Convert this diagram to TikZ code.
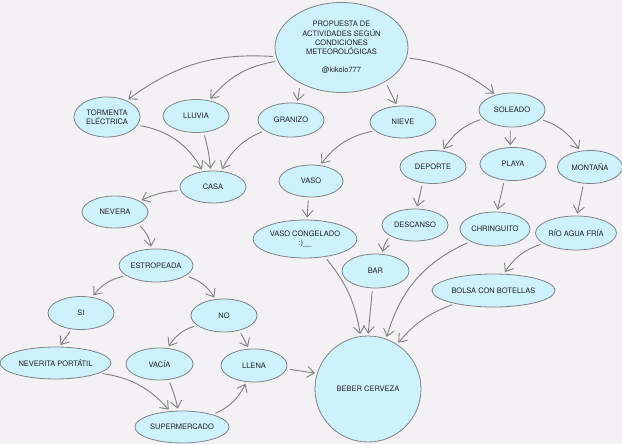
\documentclass[tikz,border=0pt]{standalone}
\usepackage{fontspec}
\setmainfont{TeX Gyre Heros}
\usepackage{tikz}
\usetikzlibrary{arrows.meta}
\usetikzlibrary{shapes.geometric}
\definecolor{bgpaper}{RGB}{243,241,243}
\definecolor{bubblefill}{RGB}{206,242,251}
\definecolor{bubbleline}{RGB}{128,130,136}
\definecolor{arrowgray}{RGB}{128,128,128}
\definecolor{labeltext}{RGB}{35,35,40}

\begin{document}
\begin{tikzpicture}[x=1pt,y=-1pt,
    bubble/.style={ellipse, draw=bubbleline, line width=0.8pt, fill=bubblefill, inner sep=0pt,
      text=labeltext, align=center, font=\fontsize{7.5}{9.3}\selectfont,
      minimum width=66pt, minimum height=33pt},
    arr/.style={draw=arrowgray, line width=0.9pt, -{Straight Barb[length=7pt,width=11pt]},
      shorten <=3pt, shorten >=2pt}]
    % Background
    \fill[bgpaper] (0,0) rectangle (622,444);%
    \useasboundingbox (0,0) rectangle (622,444);%

    % Nodes
    \node[bubble, minimum width=133pt, minimum height=90pt] (title) at (341.5,47.5)
      {PROPUESTA DE\\ACTIVIDADES SEGÚN\\CONDICIONES\\METEOROLÓGICAS\\[8.5pt]@kikolo777};%
    \node[bubble, minimum height=40pt] (tormenta) at (107,117) {TORMENTA\\ELÉCTRICA};%
    \node[bubble] (lluvia) at (196,116) {LLUVIA};%
    \node[bubble, minimum height=34pt] (granizo) at (291,120) {GRANIZO};%
    \node[bubble, minimum height=32pt] (nieve) at (403,122) {NIEVE};%
    \node[bubble, minimum height=34pt] (soleado) at (512,110) {SOLEADO};%
    \node[bubble, minimum height=32pt] (casa) at (213,187) {CASA};%
    \node[bubble, minimum width=64pt, minimum height=32pt] (vaso) at (311,181) {VASO};%
    \node[bubble] (deporte) at (433,167) {DEPORTE};%
    \node[bubble] (playa) at (513,164) {PLAYA};%
    \node[bubble, minimum width=65pt] (montana) at (590,167) {MONTAÑA};%
    \node[bubble, minimum height=32pt] (nevera) at (115,212) {NEVERA};%
    \node[bubble, minimum width=104pt, minimum height=38pt] (congelado) at (305,239) {VASO CONGELADO\\:)\_\_};%
    \node[bubble, minimum height=32pt] (descanso) at (415,225) {DESCANSO};%
    \node[bubble, minimum width=70pt, minimum height=34pt] (chiringuito) at (495,229) {CHRINGUITO};%
    \node[bubble, minimum width=81pt, minimum height=34pt] (rio) at (576,233) {RÍO AGUA FRÍA};%
    \node[bubble, minimum width=67pt, minimum height=34pt] (bar) at (375.5,271) {BAR};%
    \node[bubble, minimum width=74pt] (estropeada) at (156,265.5) {ESTROPEADA};%
    \node[bubble, minimum width=123pt] (bolsa) at (493.5,290.5) {BOLSA CON BOTELLAS};%
    \node[bubble] (si) at (81,313) {SI};%
    \node[bubble] (no) at (224,315.5) {NO};%
    \node[bubble, minimum width=111pt, minimum height=32pt] (neverita) at (55.5,363) {NEVERITA PORTÁTIL};%
    \node[bubble, minimum width=67pt, minimum height=32pt] (vacia) at (159.5,364) {VACÍA};%
    \node[bubble] (llena) at (254,365.5) {LLENA};%
    \node[bubble, minimum width=94pt, minimum height=32pt] (super) at (182,427) {SUPERMERCADO};%
    \node[bubble, circle, minimum size=106pt] (beber) at (368,389) {BEBER CERVEZA};%

    % Connectors from the title
    \draw[arr] (title.188) to[bend right=20] (tormenta.40);%
    \draw[arr] (title.192) to[bend right=20] (lluvia.50);%
    \draw[arr, shorten <=5pt] (title.221) -- (granizo.70);%
    \draw[arr, shorten <=4pt] (title.322) -- (nieve.110);%
    \draw[arr] (title.351) to[bend left=15] (soleado.137);%

    % Rain, storm and hail
    \draw[arr] (tormenta.345) to[bend left=25] (casa.123);%
    \draw[arr] (lluvia.295) to[bend left=5] (casa.98);%
    \draw[arr] (granizo.202) to[bend right=20] (casa.63);%
    \draw[arr] (casa.186) to[bend right=10] (nevera.24);%
    \draw[arr] (nevera.332) to[bend left=20] (estropeada.106);%
    \draw[arr] (estropeada.199) to[bend right=20] (si.55);%
    \draw[arr] (estropeada.341) to[bend left=20] (no.118);%
    \draw[arr] (si.240) -- (neverita.77);%
    \draw[arr] (no.200) to[bend right=20] (vacia.63);%
    \draw[arr] (no.316) -- (llena.107);%
    \draw[arr] (neverita.347) to[bend left=20] (super.127);%
    \draw[arr] (vacia.300) to[bend left=5] (super.103);%
    \draw[arr] (super.22) to[bend right=20] (llena.245);%
    \draw[arr] (llena.354) -- (beber.163);%

    % Snow
    \draw[arr] (nieve.197) to[bend right=20] (vaso.60);%
    \draw[arr] (vaso.261) -- (congelado.84);%
    \draw[arr] (congelado.318) to[bend left=15] (beber.98);%

    % Sun
    \draw[arr] (soleado.197) to[bend right=20] (deporte.59);%
    \draw[arr] (soleado.264) -- (playa.99);%
    \draw[arr] (soleado.342) to[bend left=20] (montana.122);%
    \draw[arr] (deporte.237) -- (descanso.84);%
    \draw[arr] (playa.242) -- (chiringuito.83);%
    \draw[arr] (montana.249) -- (rio.87);%
    \draw[arr] (descanso.204) to[bend right=15] (bar.68);%
    \draw[arr] (rio.198) to[bend right=20] (bolsa.58);%
    \draw[arr] (bar.260) -- (beber.90);%
    \draw[arr] (chiringuito.207) to[bend right=25] (beber.70);%
    \draw[arr] (bolsa.199) to[bend right=15] (beber.57);%
\end{tikzpicture}
\end{document}
